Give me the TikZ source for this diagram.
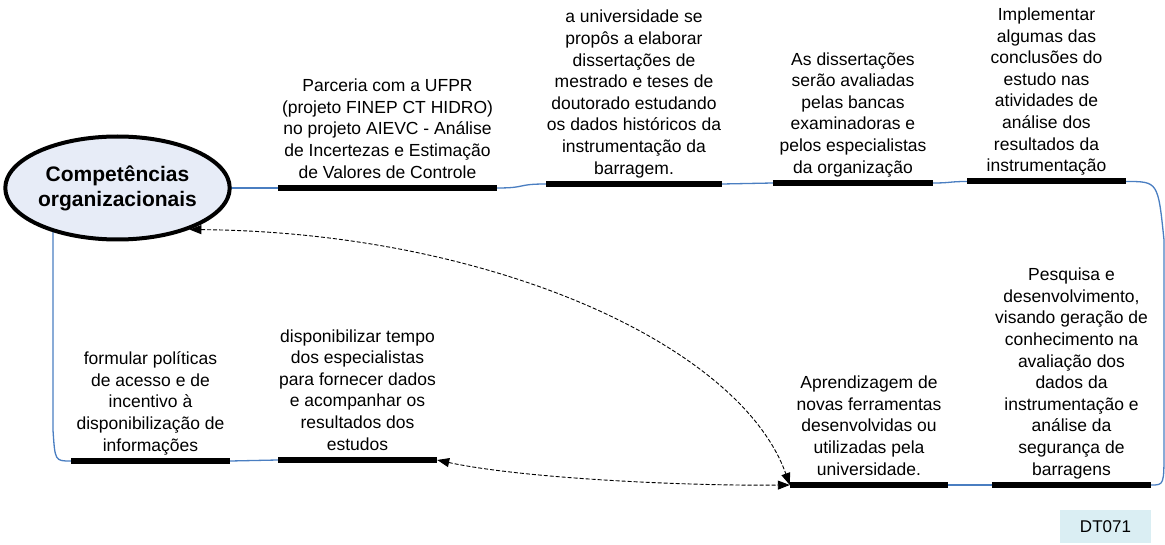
\documentclass[tikz,border=0pt]{standalone}
\usepackage{fontspec}
\setmainfont{Liberation Sans}
\usetikzlibrary{arrows.meta,calc,shapes.geometric}
\pgfdeclarelayer{background}
\pgfsetlayers{background,main}
\definecolor{ellfill}{RGB}{231,236,247}
\definecolor{linkblue}{RGB}{74,126,193}
\definecolor{tagfill}{RGB}{218,238,243}
\tikzset{
 bar/.style={fill=black, inner sep=0pt, minimum height=6pt, minimum width=#1},
 txt/.style={anchor=south, inner sep=0pt, align=center, font=\fontsize{17.5}{21.6}\selectfont},
 link/.style={draw=linkblue, line width=1.3pt},
 dlink/.style={draw=black, dash pattern=on 4pt off 2pt, line width=0.9pt, {Triangle[length=12pt,width=9pt]}-{Triangle[length=12pt,width=9pt]}},
}
\begin{document}
\begin{tikzpicture}[x=1pt,y=-1pt]
\useasboundingbox (0,0) rectangle (1165,545);
\node[ellipse, draw, line width=4pt, fill=ellfill, minimum width=221pt, minimum height=103pt, inner sep=0pt, align=center, font=\bfseries\fontsize{21}{25}\selectfont] (E) at (117.5,188) {Competências\\organizacionais};

\node[bar=219pt] (b1) at (387.5,188) {};
\node[bar=176pt] (b2) at (634,184) {};
\node[bar=160pt] (b3) at (853,183) {};
\node[bar=159pt] (b4) at (1046.5,181.5) {};
\node[bar=159pt] (b5) at (150.5,461) {};
\node[bar=159pt] (b6) at (357.5,460) {};
\node[bar=158pt] (b7) at (869,485) {};
\node[bar=159pt] (b8) at (1071.5,485) {};

\node[txt] (t1) at (b1.north) {Parceria com a UFPR\\(projeto FINEP CT HIDRO)\\no projeto AIEVC - Análise\\de Incertezas e Estimação\\de Valores de Controle\strut};
\node[txt] (t2) at (b2.north) {a universidade se\\propôs a elaborar\\dissertações de\\mestrado e teses de\\doutorado estudando\\os dados históricos da\\instrumentação da\\barragem.\strut};
\node[txt] (t3) at (b3.north) {As dissertações\\serão avaliadas\\pelas bancas\\examinadoras e\\pelos especialistas\\da organização\strut};
\node[txt] (t4) at (b4.north) {Implementar\\algumas das\\conclusões do\\estudo nas\\atividades de\\análise dos\\resultados da\\instrumentação\strut};
\node[txt] (t5) at (b5.north) {formular políticas\\de acesso e de\\incentivo à\\disponibilização de\\informações\strut};
\node[txt] (t6) at (b6.north) {disponibilizar tempo\\dos especialistas\\para fornecer dados\\e acompanhar os\\resultados dos\\estudos\strut};
\node[txt] (t7) at (b7.north) {Aprendizagem de\\novas ferramentas\\desenvolvidas ou\\utilizadas pela\\universidade.\strut};
\node[txt] (t8) at (b8.north) {Pesquisa e\\desenvolvimento,\\visando geração de\\conhecimento na\\avaliação dos\\dados da\\instrumentação e\\análise da\\segurança de\\barragens\strut};

\node[fill=tagfill, minimum width=91pt, minimum height=33pt, inner sep=0pt, font=\fontsize{17}{20}\selectfont] (dt) at (1105.5,526.5) {DT071};

\coordinate (r1) at (1164,240);
\coordinate (r2) at (1164,450);
\coordinate (l1) at (53,430);
\begin{pgfonlayer}{background}
\draw[link] (E.center |- b1.west) -- (b1.west);
\draw[link] (b1.east) .. controls +(30,0) and +(-30,0) .. (b2.west);
\draw[link] (b2.east) .. controls +(25,0) and +(-25,0) .. (b3.west);
\draw[link] (b3.east) .. controls +(18,0) and +(-18,0) .. (b4.west);
\draw[link] (b4.east) .. controls (1158,181.5) .. (r1) -- (r2) .. controls (1164,485) .. (b8.east);
\draw[link] (b8.west) -- (b7.east);
\draw[link] (b6.west) -- (b5.east);
\draw[link] (b5.west) .. controls (55,461) .. (l1) -- (E.center -| l1);
\end{pgfonlayer}

\draw[dlink] (E.-30) .. controls (490,232) and (740,345) .. (b7.west);
\draw[dlink] (b6.east) .. controls (520,478) and (680,486) .. (b7.west);
\end{tikzpicture}
\end{document}
